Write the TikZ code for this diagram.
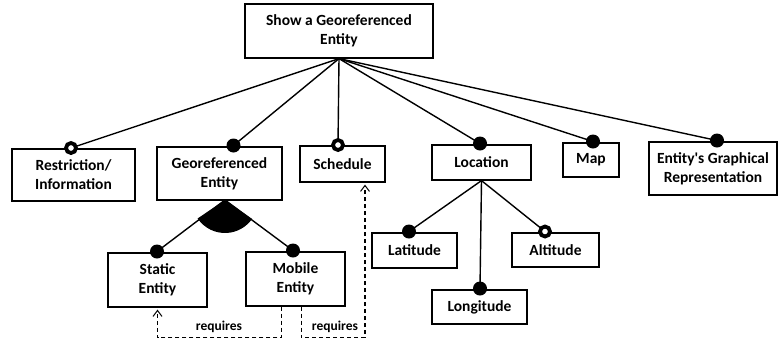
\documentclass[tikz,border=0pt]{standalone}
\usepackage{fontspec}
\setmainfont{Carlito}
\usetikzlibrary{arrows.meta,calc}
\tikzset{
  box/.style={draw, line width=1.2pt, inner sep=0pt, align=center,
    font=\bfseries\fontsize{15.5}{19}\selectfont},
  link/.style={line width=1.4pt},
  mand/.style={circle, fill=black, inner sep=0pt, minimum size=14pt},
  opt/.style={circle, draw=black, fill=white, line width=3.8pt, inner sep=0pt, minimum size=10pt},
  req/.style={line width=1.1pt, dash pattern=on 4pt off 3pt, -{Straight Barb[length=6pt,width=9pt,line width=1pt]}},
  reqlabel/.style={font=\bfseries\fontsize{13.5}{15}\selectfont, inner sep=0pt}
}
\begin{document}
\begin{tikzpicture}[x=1pt,y=-1pt]
\useasboundingbox (0,0) rectangle (780,341);
% boxes
\node[box, minimum width=188pt, minimum height=54pt] (top) at (339,31) {Show a Georeferenced\\Entity};
\node[box, minimum width=123pt, minimum height=52pt] (res) at (73.5,175) {Restriction/\\Information};
\node[box, minimum width=125pt, minimum height=53pt] (geo) at (219.5,173.5) {Georeferenced\\Entity};
\node[box, minimum width=85pt, minimum height=36pt] (sch) at (342.5,164) {Schedule};
\node[box, minimum width=99pt, minimum height=35pt] (loc) at (481.5,162.5) {Location};
\node[box, minimum width=56pt, minimum height=34pt] (map) at (591,160) {Map};
\node[box, minimum width=128pt, minimum height=53pt] (egr) at (713,168.5) {Entity\textquotesingle s Graphical\\Representation};
\node[box, minimum width=99pt, minimum height=54pt] (sta) at (157.5,280) {Static\\Entity};
\node[box, minimum width=99pt, minimum height=54pt] (mob) at (295.5,279) {Mobile\\Entity};
\node[box, minimum width=85pt, minimum height=35pt] (lat) at (414.5,250.5) {Latitude};
\node[box, minimum width=87pt, minimum height=34pt] (alt) at (555.5,250) {Altitude};
\node[box, minimum width=95pt, minimum height=34pt] (lon) at (479.5,307) {Longitude};
% circle positions
\coordinate (cres) at (71,148);
\coordinate (cgeo) at (233.5,145.5);
\coordinate (csch) at (338,145);
\coordinate (cloc) at (480,143.5);
\coordinate (cmap) at (593,141.5);
\coordinate (cegr) at (717,140.5);
\coordinate (csta) at (157,251.5);
\coordinate (cmob) at (293,250.5);
\coordinate (clat) at (409,231.5);
\coordinate (calt) at (545,231.5);
\coordinate (clon) at (480,288.5);
\coordinate (ap) at (225,200);
% wedge
\fill (ap) -- ++(146:33) arc[start angle=146, end angle=35, radius=33] -- cycle;
% links
\foreach \c in {cres,cgeo,csch,cloc,cmap,cegr}
  \draw[link] (top.south) -- (\c);
\draw[link] (ap) -- (csta);
\draw[link] (ap) -- (cmob);
\foreach \c in {clat,calt,clon}
  \draw[link] (loc.south) -- (\c);
% circles
\node[opt] (ores) at (cres) {};
\node[mand] (mgeo) at (cgeo) {};
\node[opt] (osch) at (csch) {};
\node[mand] (mloc) at (cloc) {};
\node[mand] (mmap) at (cmap) {};
\node[mand] (megr) at (cegr) {};
\node[mand] (msta) at (csta) {};
\node[mand] (mmob) at (cmob) {};
\node[mand] (mlat) at (clat) {};
\node[opt] (oalt) at (calt) {};
\node[mand] (mlon) at (clon) {};
% requires
\coordinate (r1) at ($(mob.south west)+(36,0)$);
\coordinate (r2) at ($(mob.south west)+(56,0)$);
\draw[req] (r1) -- ++(0,31) -| ($(sta.south)+(0,2)$);
\draw[req] (r2) -- ++(0,31) -| ($(sch.south)+(22.5,2)$);
\node[reqlabel] (l1) at (219,327) {requires};
\node[reqlabel] (l2) at (335,327) {requires};
\end{tikzpicture}
\end{document}
